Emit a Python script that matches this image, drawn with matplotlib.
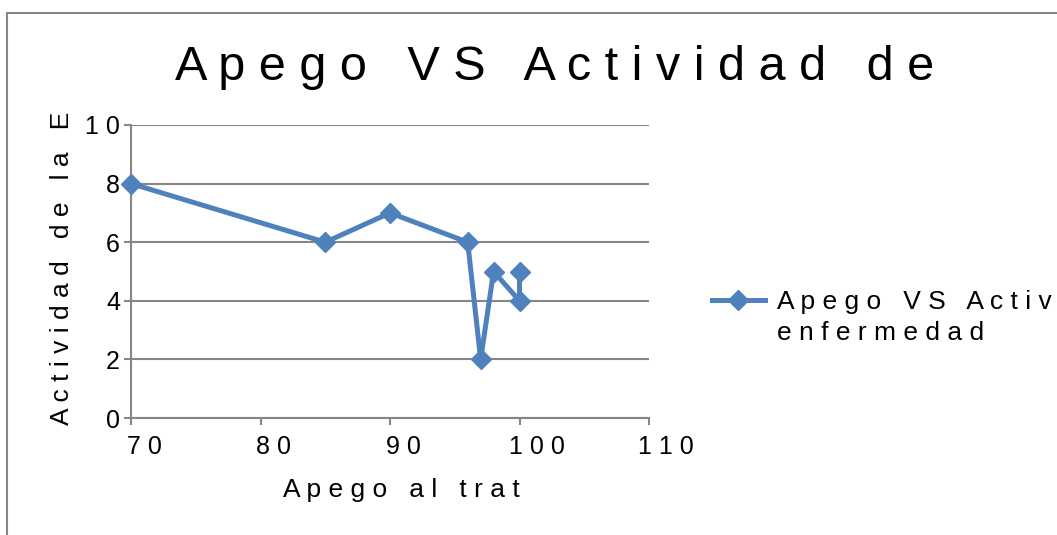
import matplotlib
matplotlib.use("Agg")
import matplotlib.pyplot as plt
from matplotlib.patches import Rectangle
from matplotlib.transforms import ScaledTranslation

# data
apego = [70, 85, 90, 96, 97, 98, 100, 100]
actividad = [8, 6, 7, 6, 2, 5, 4, 5]

x_ticks = [70, 80, 90, 100, 110]
y_ticks = [0, 2, 4, 6, 8, 10]

title = "Apego VS Actividad de"
x_label = "Apego al trat"
y_label = "Actividad de la E"
legend_line1 = "Apego VS Actividad de la"
legend_line2 = "enfermedad"


def spaced(s):
    # Excel export has wide letter spacing
    return " ".join(s)


plt.rcParams['font.family'] = ['Liberation Sans', 'DejaVu Sans']

blue = "#4F81BD"
gray = "#868686"
W, H = 1057, 535

fig = plt.figure(figsize=(W / 100, H / 100), dpi=100)
ax = fig.add_axes([131 / W, 1 - 418 / H, 518 / W, 293 / H])

# outer chart border (cropped on right/bottom)
fig.patches.append(Rectangle((7 / W, -0.1), 1.2, 1 - 13 / H + 0.1,
                             transform=fig.transFigure, fill=False,
                             edgecolor=gray, linewidth=1.5))

ax.plot(apego, actividad, color=blue, linewidth=3.6, marker='D',
        markersize=10.5, markeredgecolor=blue, label=spaced(legend_line1),
        solid_joinstyle='miter', zorder=3, clip_on=False)

ax.set_xlim(70, 110)
ax.set_ylim(0, 10)
ax.set_xticks(x_ticks)
ax.set_xticklabels([spaced(str(v)) for v in x_ticks])
ax.set_yticks(y_ticks)
ax.set_yticklabels([spaced(str(v)) for v in y_ticks])

ax.grid(axis='y', color=gray, linewidth=1.5)
ax.set_axisbelow(True)
for side in ['top', 'right']:
    ax.spines[side].set_visible(False)
for side in ['left', 'bottom']:
    ax.spines[side].set_color(gray)
    ax.spines[side].set_linewidth(1.5)
ax.tick_params(axis='both', color=gray, width=1.5, length=5,
               labelsize=18)
ax.tick_params(axis='x', pad=7)
ax.tick_params(axis='y', pad=3)

# Excel letter spacing pushes x tick labels a little to the right
for lab in ax.get_xticklabels():
    dx = 13 if len(lab.get_text().replace(" ", "")) < 3 else 17
    lab.set_transform(lab.get_transform() +
                      ScaledTranslation(dx / 100, 0, fig.dpi_scale_trans))

ax.set_xlabel(spaced(x_label), fontsize=19)
ax.xaxis.set_label_coords(0.521, -0.205)
ax.set_ylabel(spaced(y_label), fontsize=19)
ax.yaxis.set_label_coords(-0.111, 0.51)

fig.text(555 / W, 1 - 80 / H, spaced(title), fontsize=35,
         ha='center', va='baseline')

leg = ax.legend(loc='center left', bbox_to_anchor=(712 / W, 1 - 302 / H),
                bbox_transform=fig.transFigure, frameon=False, fontsize=19,
                handlelength=2.0, handletextpad=0.45, borderpad=0,
                borderaxespad=0)
# second line of the legend label, hung under the first one
ax.annotate(spaced(legend_line2), xy=(0, 0), xycoords=leg.get_texts()[0],
            xytext=(0, -19), textcoords='offset points', fontsize=19,
            ha='left', va='baseline', annotation_clip=False, zorder=10)

fig.savefig("out.png", dpi=100)
